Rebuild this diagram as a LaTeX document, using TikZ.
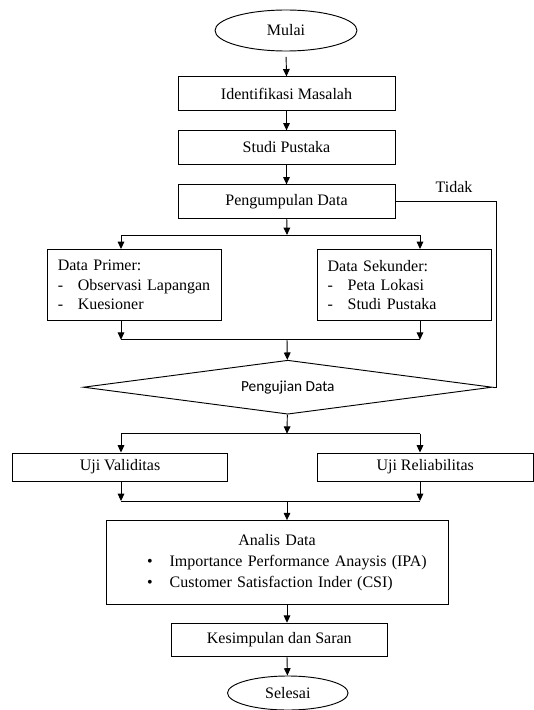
\documentclass[tikz,border=0pt]{standalone}
\usepackage{fontspec}
\setmainfont{Liberation Serif}
\newfontfamily\calibri{Carlito}
\usetikzlibrary{shapes, arrows.meta, positioning}

\begin{document}
\begin{tikzpicture}[
        x=0.75pt, y=-0.75pt,
        box/.style={draw, rectangle, line width=0.7pt, minimum width=162.75pt, minimum height=25pt, align=center, font=\fontsize{12}{14.4}\selectfont},
        terminal/.style={draw, ellipse, line width=0.7pt, inner ysep=1pt, font=\fontsize{12}{14.4}\selectfont},
        listbox/.style={box, minimum width=131pt, text width=115pt, inner xsep=8pt, minimum height=53.2pt, align=left},
        arrow/.style={->, >={Triangle[length=5.5pt, width=5pt]}, line width=0.7pt},
        line/.style={line width=0.7pt}
    ]
    \useasboundingbox (0,0) rectangle (534,710);
    \node[terminal, minimum width=106.5pt, minimum height=30.75pt] (mulai) at (286,30.5) {Mulai};
    \node[box] (identifikasi) at (286.5,93.5) {Identifikasi Masalah};
    \node[box, below=14.8pt of identifikasi] (studi) {Studi Pustaka};
    \node[box, below=14.8pt of studi] (kumpul) {Pengumpulan Data};
    \node[listbox] (primer) at (134.5,284.9) {Data Primer:\\ \makebox[15pt][l]{-}Observasi Lapangan\\ \makebox[15pt][l]{-}Kuesioner};
    \node[listbox] (sekunder) at (404.3,284.9) {Data Sekunder:\\ \makebox[15pt][l]{-}Peta Lokasi\\ \makebox[15pt][l]{-}Studi Pustaka};
    \node[draw, diamond, aspect=7.57, inner sep=0pt, minimum width=306.6pt, minimum height=40.5pt, line width=0.7pt, font=\calibri\fontsize{11.5}{13}\selectfont] (uji) at (287.8,387.2) {Pengujian Data};
    \node[box, minimum width=161.2pt, minimum height=21pt] (validitas) at (120,467) {Uji Validitas};
    \node[box, minimum width=161.7pt, minimum height=21pt] (reliabilitas) at (425.2,467) {Uji Reliabilitas};
    \node[box, minimum width=256.5pt, minimum height=62.6pt, text width=256.5pt, inner xsep=0pt, align=left, font=\fontsize{12}{15.75}\selectfont] (analisis) at (277,562.3) {\makebox[256.5pt]{Analis Data}\\ \hspace*{30.75pt}\makebox[17pt][l]{\textbullet}Importance Performance Anaysis (IPA)\\ \hspace*{30.75pt}\makebox[17pt][l]{\textbullet}Customer Satisfaction Inder (CSI)};
    \node[box, minimum width=162.5pt] (simpulan) at (279.3,639.9) {Kesimpulan dan Saran};
    \node[terminal, minimum width=90.4pt, minimum height=25.5pt] (selesai) at (287.8,693) {Selesai};
    \node[font=\fontsize{12}{14.4}\selectfont] (tidak) at (454,187) {Tidak};

    % titik cabang dan gabung
    \coordinate (cabang1) at (287,235);
    \coordinate (kiri1) at (121,235);
    \coordinate (kanan1) at (420,235);
    \coordinate (gabung2) at (287,339.7);
    \coordinate (kiri2) at (121,339.7);
    \coordinate (kanan2) at (420,339.7);
    \coordinate (cabang3) at (287,433.7);
    \coordinate (kiri3) at (121,433.7);
    \coordinate (kanan3) at (420,433.7);
    \coordinate (gabung4) at (287,501);
    \coordinate (kiri4) at (121,501);
    \coordinate (kanan4) at (420,501);

    \draw[arrow, shorten <=4pt] (mulai.south) -- (identifikasi.north);
    \draw[arrow] (identifikasi) -- (studi);
    \draw[arrow] (studi) -- (kumpul);
    \draw[arrow] (kumpul) -- (cabang1);
    \draw[line] (kiri1) -- (kanan1);
    \draw[arrow] (kiri1) -- (kiri1 |- primer.north);
    \draw[arrow] (kanan1) -- (kanan1 |- sekunder.north);
    \draw[arrow] (kiri1 |- primer.south) -- (kiri2);
    \draw[arrow] (kanan1 |- sekunder.south) -- (kanan2);
    \draw[line] (kiri2) -- (kanan2);
    \draw[arrow] (gabung2) -- (uji);
    \draw[line] (kumpul.east) -- ++(100.6,0) |- (uji.east);
    \draw[arrow] (uji) -- (cabang3);
    \draw[line] (kiri3) -- (kanan3);
    \draw[arrow] (kiri3) -- (kiri3 |- validitas.north);
    \draw[arrow] (kanan3) -- (kanan3 |- reliabilitas.north);
    \draw[arrow] (kiri3 |- validitas.south) -- (kiri4);
    \draw[arrow] (kanan3 |- reliabilitas.south) -- (kanan4);
    \draw[line] (kiri4) -- (kanan4);
    \draw[arrow] (gabung4) -- (gabung4 |- analisis.north);
    \draw[arrow] (gabung4 |- analisis.south) -- (gabung4 |- simpulan.north);
    \draw[arrow] (gabung4 |- simpulan.south) -- (selesai);
\end{tikzpicture}
\end{document}
